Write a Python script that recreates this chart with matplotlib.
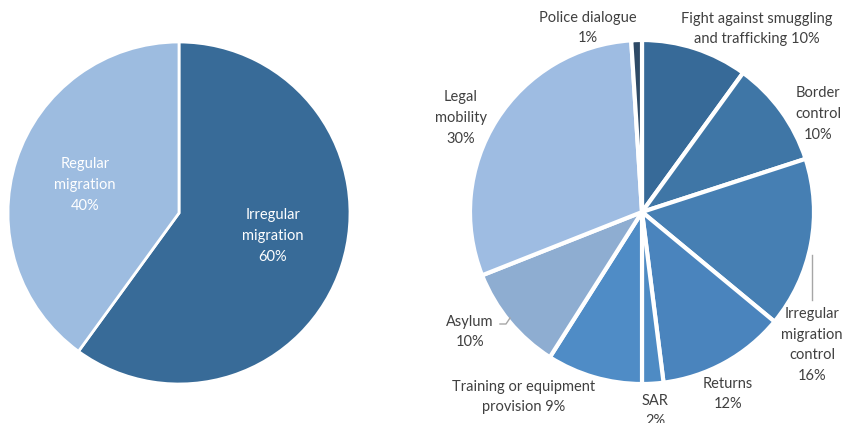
import matplotlib.pyplot as plt

plt.rcParams['font.family'] = ['Lato', 'DejaVu Sans']

# left pie: split of spending
split_labels = ['Irregular\nmigration\n60%', 'Regular\nmigration\n40%']
split_values = [60, 40]
split_colors = ['#386b98', '#9dbce0']

# right pie: breakdown by action type
action_labels = ['Fight against smuggling\nand trafficking 10%', 'Border\ncontrol\n10%',
                 'Irregular\nmigration\ncontrol\n16%', 'Returns\n12%', 'SAR\n2%',
                 'Training or equipment\nprovision 9%', 'Asylum\n10%',
                 'Legal\nmobility\n30%', 'Police dialogue\n1%']
action_values = [10, 10, 16, 12, 2, 9, 10, 30, 1]
action_colors = ['#376a98', '#3f76a6', '#467fb3', '#4a84bd', '#4e8bc4',
                 '#4f8cc6', '#8eadd1', '#9ebce2', '#2e4a66']

W, H = 860, 423
fig = plt.figure(figsize=(W / 100, H / 100), dpi=100)
ax = fig.add_axes([0, 0, 1, 1])

ax.pie(split_values, colors=split_colors, startangle=90, counterclock=False,
       center=(179, H - 213), radius=171, frame=True,
       wedgeprops=dict(edgecolor='white', linewidth=2))
ax.pie(action_values, colors=action_colors, startangle=90, counterclock=False,
       center=(642, H - 212), radius=172, frame=True,
       wedgeprops=dict(edgecolor='white', linewidth=3))
ax.set_xlim(0, W)
ax.set_ylim(0, H)
ax.set_aspect('equal')
ax.axis('off')

txt = dict(ha='center', va='center', fontsize=10.5, linespacing=1.6)

# labels inside the left pie
ax.text(273, H - 236, split_labels[0], color='white', **txt)
ax.text(85, H - 185, split_labels[1], color='white', **txt)

# labels around the right pie
label_pos = [(757, 29), (818, 114), (812, 345), (728, 394), (655, 411),
             (524, 397), (470, 332), (461, 118), (588, 28)]
for lab, (x, y) in zip(action_labels, label_pos):
    ax.text(x, H - y, lab, color='#404040', **txt)

# leader lines
ax.plot([812, 812], [H - 255, H - 300], color='#a6a6a6', lw=1)
ax.plot([500, 506, 510], [H - 324, H - 324, H - 318], color='#a6a6a6', lw=1)

fig.savefig('out.png', dpi=100)
